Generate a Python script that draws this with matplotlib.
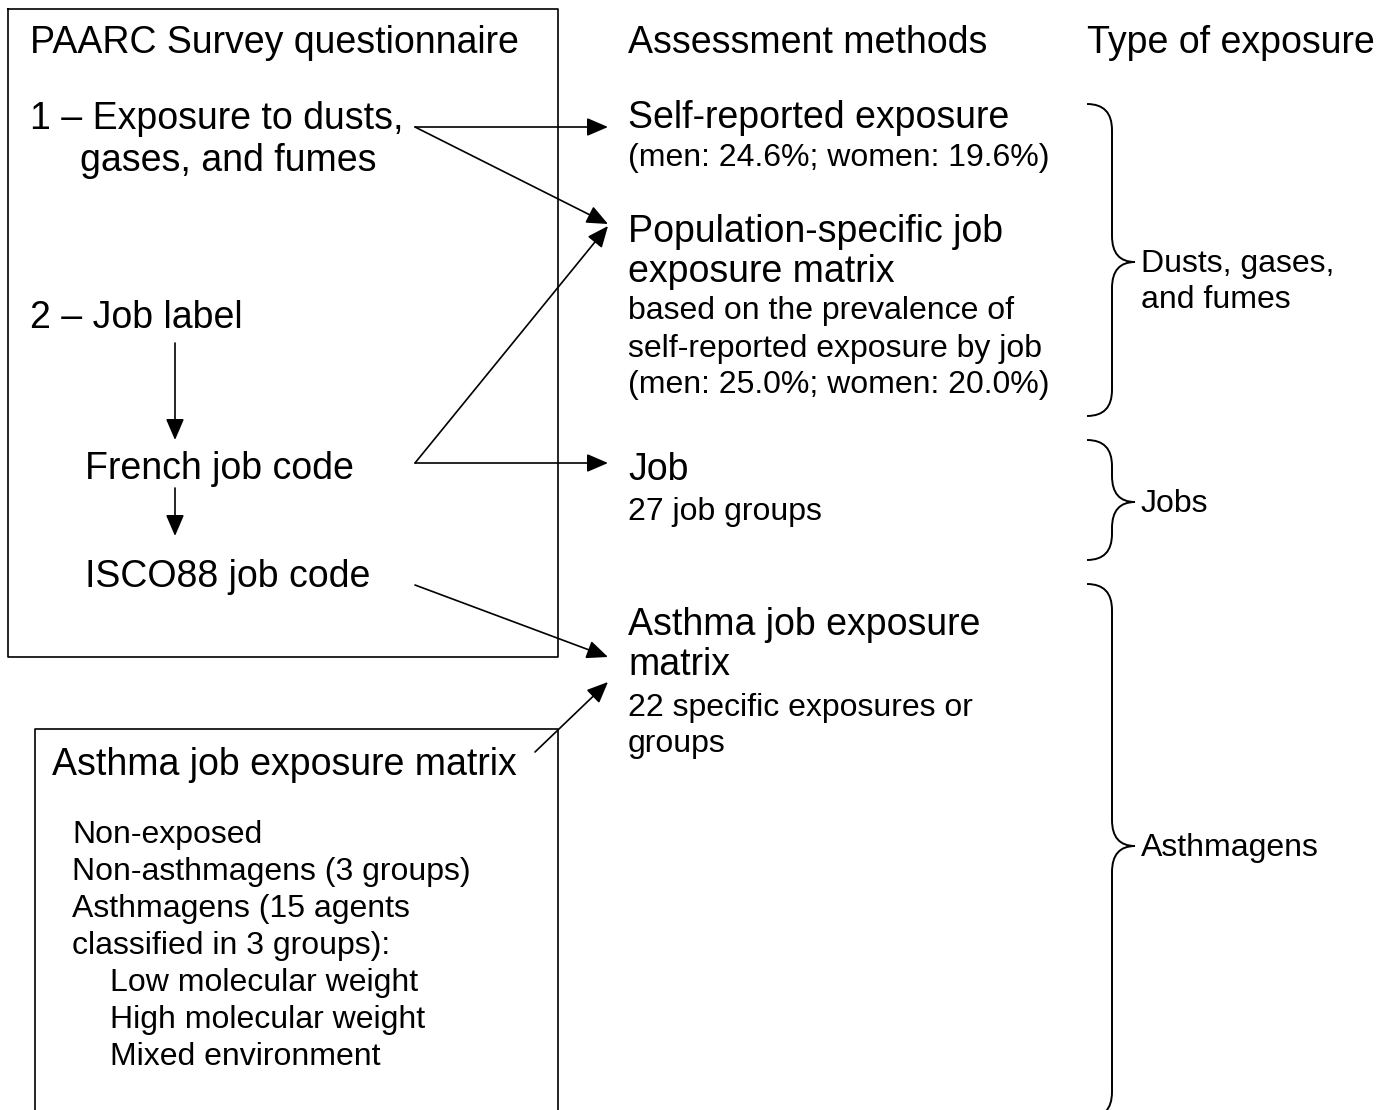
import matplotlib
matplotlib.use('Agg')
import matplotlib.pyplot as plt
from matplotlib.path import Path
from matplotlib.patches import PathPatch

plt.rcParams['font.family'] = ['Liberation Sans', 'DejaVu Sans']

BIG = 27
SMALL = 23

# column headings
headers = ['PAARC Survey questionnaire', 'Assessment methods', 'Type of exposure']
header_x = [30, 628, 1087]

# questionnaire items (left box)
quest_text = ['1 \u2013 Exposure to dusts,', 'gases, and fumes', '2 \u2013 Job label',
              'French job code', 'ISCO88 job code']
quest_x = [30, 80, 30, 85, 85]
quest_y = [129, 171, 328, 479, 587]

# assessment methods (middle column): (text, size)
methods = [('Self-reported exposure', BIG), ('(men: 24.6%; women: 19.6%)', SMALL),
           ('Population-specific job', BIG), ('exposure matrix', BIG),
           ('based on the prevalence of', SMALL), ('self-reported exposure by job', SMALL),
           ('(men: 25.0%; women: 20.0%)', SMALL),
           ('Job', BIG), ('27 job groups', SMALL),
           ('Asthma job exposure', BIG), ('matrix', BIG),
           ('22 specific exposures or', SMALL), ('groups', SMALL)]
methods_y = [128, 166, 242, 282, 319, 357, 393, 480, 520, 635, 675, 716, 752]

# asthma JEM box
jem_title = 'Asthma job exposure matrix'
jem_items = ['Non-exposed', 'Non-asthmagens (3 groups)', 'Asthmagens (15 agents',
             'classified in 3 groups):', 'Low molecular weight', 'High molecular weight',
             'Mixed environment']
jem_indent = [0, 0, 0, 0, 1, 1, 1]

# exposure types with braces: label lines, top, tip, bottom
exp_labels = [['Dusts, gases,', 'and fumes'], ['Jobs'], ['Asthmagens']]
brace_top = [104, 440, 584]
brace_tip = [262, 502, 846]
brace_bot = [416, 560, 1118]

# arrows: (x0, y0) -> (x1, y1)
arrows = [((415, 127), (608, 127)), ((415, 127), (608, 224)),
          ((175, 343), (175, 440)), ((175, 488), (175, 536)),
          ((415, 463), (608, 463)), ((415, 463), (608, 226)),
          ((415, 585), (608, 657)), ((535, 752), (608, 682))]

fig = plt.figure(figsize=(13.91, 11.10), dpi=100)
ax = fig.add_axes([0, 0, 1, 1])
ax.set_xlim(0, 1391)
ax.set_ylim(1110, 0)
ax.axis('off')

# boxes
ax.plot([8, 558, 558, 8, 8], [9, 9, 657, 657, 9], color='black', lw=1.2)
ax.plot([35, 35, 558, 558], [1115, 729, 729, 1115], color='black', lw=1.2)

for t, x in zip(headers, header_x):
    ax.text(x, 53, t, fontsize=BIG, va='baseline', ha='left')

for t, x, y in zip(quest_text, quest_x, quest_y):
    ax.text(x, y, t, fontsize=BIG, va='baseline', ha='left')

for (t, s), y in zip(methods, methods_y):
    ax.text(628, y, t, fontsize=s, va='baseline', ha='left')

ax.text(52, 775, jem_title, fontsize=BIG, va='baseline', ha='left')
for i, t in enumerate(jem_items):
    ax.text(72 + 38 * jem_indent[i], 843 + 37 * i, t, fontsize=SMALL, va='baseline', ha='left')

for (p0, p1) in arrows:
    ax.annotate('', xy=p1, xytext=p0,
                arrowprops=dict(arrowstyle='-|>,head_length=0.65,head_width=0.28',
                                mutation_scale=20, color='black', lw=1.2,
                                shrinkA=0, shrinkB=0))

# braces
x0, xm, xt = 1087, 1112, 1135
for top, tip, bot, lab in zip(brace_top, brace_tip, brace_bot, exp_labels):
    r = 26
    verts = [(x0, top), (xm, top), (xm, top + r),
             (xm, tip - r), (xm, tip), (xt, tip),
             (xm, tip), (xm, tip + r),
             (xm, bot - r), (xm, bot), (x0, bot)]
    codes = [Path.MOVETO, Path.CURVE3, Path.CURVE3,
             Path.LINETO, Path.CURVE3, Path.CURVE3,
             Path.CURVE3, Path.CURVE3,
             Path.LINETO, Path.CURVE3, Path.CURVE3]
    ax.add_patch(PathPatch(Path(verts, codes), fill=False, lw=1.4, edgecolor='black'))
    for k, t in enumerate(lab):
        ax.text(1141, tip + 10 + 36 * k, t, fontsize=SMALL, va='baseline', ha='left')

fig.savefig('out.png', dpi=100)
